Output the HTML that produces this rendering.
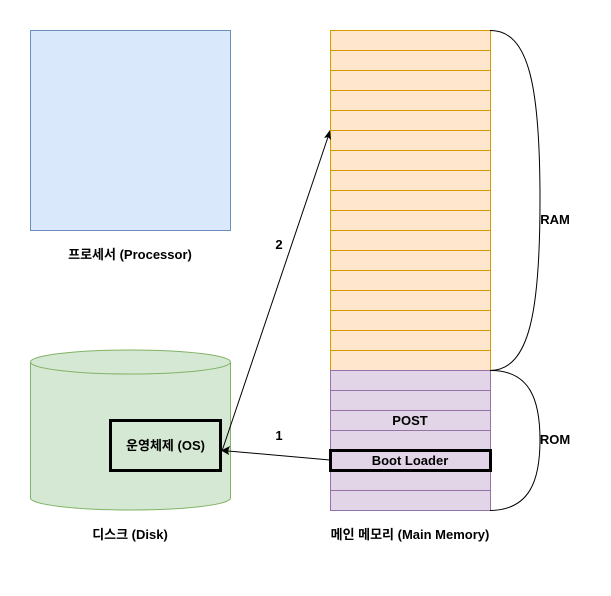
<!DOCTYPE html>
<html><head><meta charset="utf-8"><style>body{margin:0;background:#fff}</style></head><body>
<svg width="611" height="591" xmlns="http://www.w3.org/2000/svg" font-family="Liberation Sans, Noto Sans CJK KR, sans-serif" font-size="13" font-weight="bold">
<rect x="30.5" y="30.5" width="200" height="200" fill="#dae8fc" stroke="#6c8ebf"/>
<text x="130" y="259" text-anchor="middle">프로세서 (Processor)</text>
<path d="M30.5 362 A100 12 0 0 1 230.5 362 V498 A100 12 0 0 1 30.5 498 Z" fill="#d5e8d4" stroke="#82b366"/>
<path d="M30.5 362 A100 12 0 0 0 230.5 362" fill="none" stroke="#82b366"/>
<text x="130" y="539" text-anchor="middle">디스크 (Disk)</text>
<rect x="330.5" y="30.5" width="160" height="340" fill="#ffe6cc" stroke="#d79b00"/>
<path d="M330 50.5H490M330 70.5H490M330 90.5H490M330 110.5H490M330 130.5H490M330 150.5H490M330 170.5H490M330 190.5H490M330 210.5H490M330 230.5H490M330 250.5H490M330 270.5H490M330 290.5H490M330 310.5H490M330 330.5H490M330 350.5H490" stroke="#d79b00"/>
<rect x="330.5" y="370.5" width="160" height="140" fill="#e1d5e7" stroke="#9673a6"/>
<path d="M330 390.5H490M330 410.5H490M330 430.5H490M330 490.5H490" stroke="#9673a6"/>
<rect x="330.5" y="450.5" width="160" height="20" fill="#e1d5e7" stroke="#000" stroke-width="3"/>
<text x="410" y="425" text-anchor="middle">POST</text>
<text x="410" y="465" text-anchor="middle">Boot Loader</text>
<rect x="110.5" y="420.5" width="110" height="50" fill="#d5e8d4" stroke="#000" stroke-width="3"/>
<text x="165.5" y="450" text-anchor="middle">운영체제 (OS)</text>
<text x="410" y="539" text-anchor="middle">메인 메모리 (Main Memory)</text>
<path d="M490 30.5 C530 30 540 90 540 200 C540 310 530 370 490 370.5" fill="none" stroke="#000"/>
<path d="M490 370.5 C530 370 540 400 540 440 C540 480 530 510 490 510.5" fill="none" stroke="#000"/>
<text x="555" y="224" text-anchor="middle">RAM</text>
<text x="555" y="444" text-anchor="middle">ROM</text>
<line x1="330" y1="460" x2="228" y2="451" stroke="#000"/>
<path d="M221 450.5 L230 446 L228 451 L229 455 Z" fill="#000"/>
<line x1="222" y1="451" x2="328" y2="137" stroke="#000"/>
<path d="M330 130 L331 140 L328 137 L324 138 Z" fill="#000"/>
<text x="279" y="440" text-anchor="middle">1</text>
<text x="279" y="249" text-anchor="middle">2</text>
</svg>
</body></html>
